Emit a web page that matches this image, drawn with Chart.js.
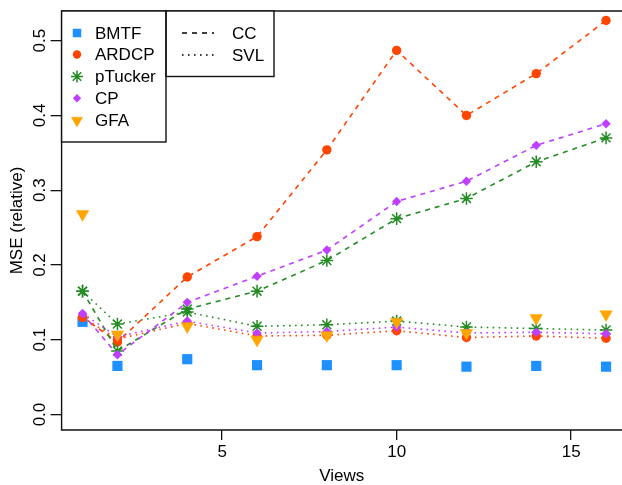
<!DOCTYPE html>
<html><head><meta charset="utf-8">
<script src="https://cdn.jsdelivr.net/npm/chart.js@4"></script>
<style>html,body{margin:0;padding:0;background:#fff;overflow:hidden;width:622px;height:485px}canvas{display:block}</style>
</head><body><canvas id="c" width="622" height="485" style="width:622px;height:485px"></canvas>
<script>
// ---- data ----
const views = [1, 2, 4, 6, 8, 10, 12, 14, 16];
const bmtf       = [0.124, 0.065, 0.074, 0.066, 0.066, 0.066, 0.064, 0.065, 0.064];
const gfa        = [0.268, 0.107, 0.118, 0.100, 0.106, 0.124, 0.109, 0.129, 0.134];
const ardcpCC    = [0.130, 0.097, 0.184, 0.238, 0.354, 0.487, 0.400, 0.456, 0.527];
const ardcpSVL   = [0.130, 0.101, 0.122, 0.105, 0.106, 0.112, 0.103, 0.105, 0.102];
const ptuckerCC  = [0.165, 0.085, 0.141, 0.165, 0.206, 0.262, 0.289, 0.338, 0.370];
const ptuckerSVL = [0.165, 0.121, 0.137, 0.118, 0.120, 0.125, 0.117, 0.115, 0.113];
const cpCC       = [0.135, 0.080, 0.150, 0.185, 0.220, 0.285, 0.312, 0.360, 0.389];
const cpSVL      = [0.135, 0.104, 0.125, 0.109, 0.111, 0.117, 0.109, 0.110, 0.108];
const xTicks = [5, 10, 15];
const yTicks = [0, 0.1, 0.2, 0.3, 0.4, 0.5];
const yTickLabels = ['0.0', '0.1', '0.2', '0.3', '0.4', '0.5'];
const methodNames = ['BMTF', 'ARDCP', 'pTucker', 'CP', 'GFA'];
const typeNames = ['CC', 'SVL'];

const FONT = '"Liberation Sans", Arial, Helvetica, sans-serif';
const M = {
  BMTF:    {color: '#1E90FF', style: 'rect',     r: 7.2, rot: 0,   bw: 0},
  ARDCP:   {color: '#FF4500', style: 'circle',   r: 4.7, rot: 0,   bw: 0},
  pTucker: {color: '#228B22', style: 'star',     r: 6.3, rot: 0,   bw: 1.5},
  CP:      {color: '#BF3EFF', style: 'rectRot',  r: 4.7, rot: 0,   bw: 0},
  GFA:     {color: '#FFA500', style: 'triangle', r: 7.2, rot: 180, bw: 0.5}
};
const DASH = [5, 5], DOT = [1.6, 4.4];

function pts(arr) { return views.map((v, i) => ({x: v, y: arr[i]})); }
function ds(label, arr, name, dash, order) {
  const m = M[name];
  return {
    label, data: pts(arr), showLine: !!dash, borderColor: m.color, backgroundColor: m.color,
    borderWidth: 1.6, borderDash: dash || [], tension: 0, fill: false,
    pointStyle: m.style, pointRadius: m.r, pointRotation: m.rot,
    pointBackgroundColor: m.color, pointBorderColor: m.color, pointBorderWidth: m.bw,
    order, clip: false
  };
}

const datasets = [
  ds('BMTF', bmtf, 'BMTF', null, 9),
  ds('ARDCP CC', ardcpCC, 'ARDCP', DASH, 8),
  ds('ARDCP SVL', ardcpSVL, 'ARDCP', DOT, 7),
  ds('pTucker CC', ptuckerCC, 'pTucker', DASH, 6),
  ds('pTucker SVL', ptuckerSVL, 'pTucker', DOT, 5),
  ds('CP CC', cpCC, 'CP', DASH, 4),
  ds('CP SVL', cpSVL, 'CP', DOT, 3),
  ds('GFA', gfa, 'GFA', null, 1)
];

const decor = {
  id: 'decor',
  afterDraw(chart) {
    const ctx = chart.ctx, a = chart.chartArea, ys = chart.scales.y;
    ctx.save();
    // plot box (right side lies beyond the visible frame, as in the reference)
    ctx.strokeStyle = '#111'; ctx.lineWidth = 1.4; ctx.setLineDash([]);
    ctx.beginPath();
    ctx.moveTo(a.right + 10, a.top); ctx.lineTo(a.left, a.top);
    ctx.lineTo(a.left, a.bottom); ctx.lineTo(a.right + 10, a.bottom);
    ctx.stroke();
    // y tick labels (rotated, R style)
    ctx.fillStyle = '#000'; ctx.font = '17px ' + FONT;
    ctx.textAlign = 'center'; ctx.textBaseline = 'middle';
    yTicks.forEach((v, i) => {
      const py = ys.getPixelForValue(v);
      ctx.save(); ctx.translate(40.5, py); ctx.rotate(-Math.PI / 2);
      ctx.fillText(yTickLabels[i], 0, 0); ctx.restore();
    });
    // legend 1
    const L = a.left;
    ctx.fillStyle = '#fff';
    ctx.fillRect(L, a.top, 166 - L, 142 - a.top);
    ctx.fillRect(166, a.top, 274 - 166, 76.5 - a.top);
    ctx.strokeStyle = '#111'; ctx.lineWidth = 1.4;
    ctx.strokeRect(L, a.top, 166 - L, 142 - a.top);
    ctx.strokeRect(166, a.top, 274 - 166, 76.5 - a.top);
    const rowsY = [33, 54.5, 76.5, 98.3, 120.5];
    ctx.textAlign = 'left'; ctx.textBaseline = 'middle'; ctx.font = '17px ' + FONT;
    methodNames.forEach((n, i) => {
      const m = M[n];
      ctx.save();
      ctx.fillStyle = m.color; ctx.strokeStyle = m.color; ctx.lineWidth = m.bw || 1;
      const r = n === 'GFA' ? 6.5 : (n === 'BMTF' ? 6 : (n === 'pTucker' ? 6 : 4.2));
      Chart.helpers.drawPoint(ctx, {pointStyle: m.style, radius: r, rotation: m.rot, borderWidth: m.bw}, 77, rowsY[i]);
      ctx.restore();
      ctx.fillStyle = '#000';
      ctx.fillText(n, 95, rowsY[i] + 1);
    });
    // legend 2
    ctx.strokeStyle = '#000'; ctx.lineWidth = 1.4;
    [[DASH, 33], [DOT, 55]].forEach(([d, y], i) => {
      ctx.setLineDash(d);
      ctx.beginPath(); ctx.moveTo(182, y); ctx.lineTo(214, y); ctx.stroke();
      ctx.setLineDash([]);
      ctx.fillText(typeNames[i], 232, y + 1);
    });
    ctx.restore();
  }
};

new Chart(document.getElementById('c'), {
  type: 'line',
  data: {datasets},
  plugins: [decor],
  options: {
    responsive: false, animation: false, devicePixelRatio: 1,
    layout: {autoPadding: false, padding: {top: 11, right: 0, left: 0, bottom: 0}},
    plugins: {legend: {display: false}, tooltip: {enabled: false}},
    scales: {
      x: {
        type: 'linear', position: 'bottom', min: 0.4, max: 16.457,
        afterBuildTicks: s => { s.ticks = xTicks.map(v => ({value: v})); },
        afterFit: s => { s.height = 55; s.paddingLeft = 0; s.paddingRight = 0; },
        grid: {display: true, drawOnChartArea: false, drawTicks: true, tickLength: 10, color: '#111', lineWidth: 1.3},
        border: {display: false},
        ticks: {font: {family: FONT, size: 17, lineHeight: 1.2}, color: '#000', padding: 2, maxRotation: 0, autoSkip: false,
                callback: v => String(v)},
        title: {display: true, text: 'Views', color: '#000', font: {family: FONT, size: 17, lineHeight: 1}, padding: {top: 0, bottom: 0}}
      },
      y: {
        type: 'linear', position: 'left', min: -0.0207, max: 0.5397,
        afterBuildTicks: s => { s.ticks = yTicks.map(v => ({value: v})); },
        afterFit: s => { s.width = 61.6; s.paddingTop = 0; s.paddingBottom = 0; },
        grid: {display: true, drawOnChartArea: false, drawTicks: true, tickLength: 11, color: '#111', lineWidth: 1.3},
        border: {display: false},
        ticks: {display: false},
        title: {display: true, text: 'MSE (relative)', color: '#000', font: {family: FONT, size: 17, lineHeight: 1}, padding: {top: 8.5, bottom: 0}}
      }
    }
  }
});
</script>
</body></html>
